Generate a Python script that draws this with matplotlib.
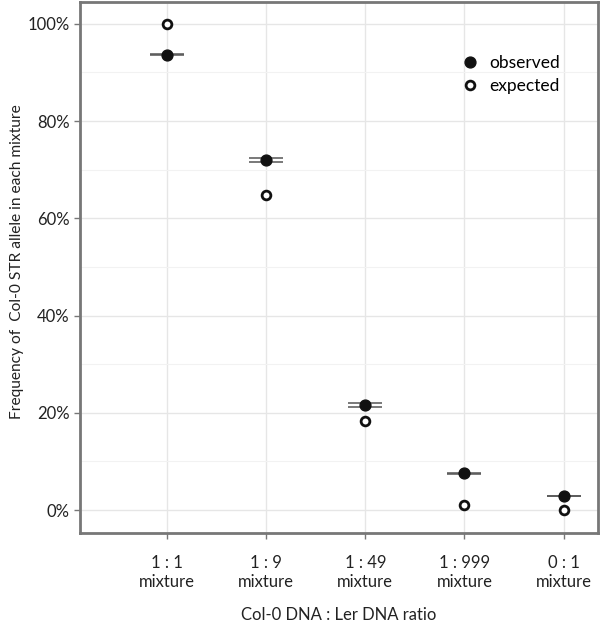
#!/usr/bin/env python3
import matplotlib
matplotlib.use("Agg")
import matplotlib.pyplot as plt
from matplotlib.ticker import MultipleLocator, PercentFormatter
from matplotlib.lines import Line2D

plt.rcParams["font.family"] = ["Lato", "DejaVu Sans"]

ratios = ["1 : 1", "1 : 9", "1 : 49", "1 : 999", "0 : 1"]
observed = [93.6, 72.0, 21.6, 7.6, 2.9]
observed_err = [0.1, 0.35, 0.35, 0.1, 0.1]
expected = [100.0, 64.8, 18.3, 1.0, 0.0]

pos = list(range(1, len(ratios) + 1))
FS = 12

fig = plt.figure(figsize=(6.0, 6.23), dpi=100)
ax = fig.add_axes([0.133, 0.1445, 0.864, 0.8525])

ax.errorbar(pos, observed, yerr=observed_err, fmt="none", ecolor="#555555",
            elinewidth=1.1, capsize=12, capthick=1.1, zorder=3)
ax.plot(pos, observed, "o", color="#111111", markersize=7.8, zorder=4)
ax.plot(pos, expected, "o", markerfacecolor="white", markeredgecolor="#111111",
        markeredgewidth=2.0, markersize=6.3, zorder=4)

ax.set_xlim(0.12, 5.35)
ax.set_ylim(-4.7, 104.5)
ax.set_xticks(pos)
ax.set_xticklabels([f"{r}\nmixture" for r in ratios], fontsize=FS, color="#222222",
                   linespacing=1.25)
ax.yaxis.set_major_locator(MultipleLocator(20))
ax.yaxis.set_minor_locator(MultipleLocator(10))
ax.yaxis.set_major_formatter(PercentFormatter(decimals=0))
ax.tick_params(axis="y", labelsize=FS, labelcolor="#222222")
ax.tick_params(axis="both", which="major", color="#777777", length=4, width=1)
ax.tick_params(axis="x", pad=12)
ax.tick_params(axis="y", which="minor", length=0)

ax.grid(True, which="major", color="#e6e6e6", linewidth=1.0)
ax.grid(True, which="minor", axis="y", color="#f2f2f2", linewidth=0.8)
ax.set_axisbelow(True)
for spine in ax.spines.values():
    spine.set_color("#777777")
    spine.set_linewidth(2.0)

ax.set_xlabel("Col-0 DNA : Ler DNA ratio", fontsize=FS, color="#222222", labelpad=12)
ax.set_ylabel("Frequency of  Col-0 STR allele in each mixture", fontsize=11.2,
              color="#222222")
ax.yaxis.set_label_coords(-0.108, 0.51)

handles = [
    Line2D([0], [0], marker="o", color="none", markerfacecolor="#111111",
           markeredgecolor="#111111", markersize=7.8, label="observed"),
    Line2D([0], [0], marker="o", color="none", markerfacecolor="white",
           markeredgecolor="#111111", markeredgewidth=2.0, markersize=6.3,
           label="expected"),
]
ax.legend(handles=handles, loc="upper left", bbox_to_anchor=(0.69, 0.93),
          frameon=False, fontsize=12.5, handletextpad=0.1, labelspacing=0.45)

fig.savefig("out.png", dpi=100)
